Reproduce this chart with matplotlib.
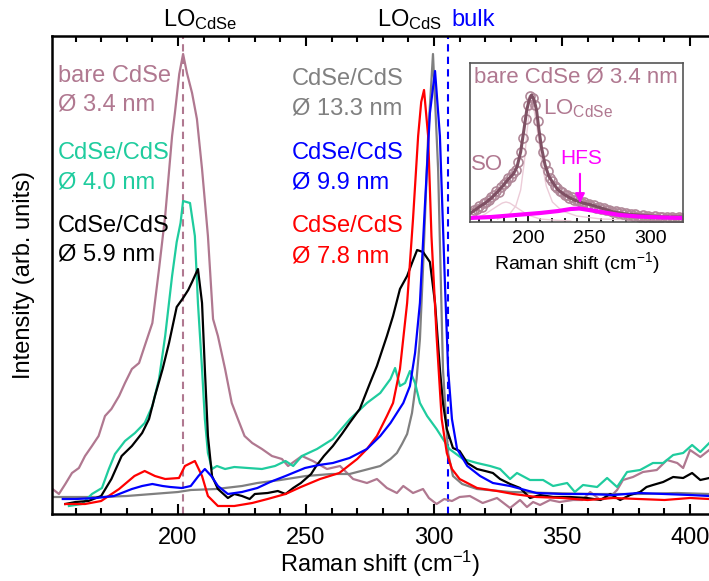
import matplotlib
matplotlib.use("Agg")
import matplotlib.pyplot as plt
from matplotlib.ticker import MultipleLocator

plt.rcParams["font.family"] = ["Liberation Sans", "DejaVu Sans"]
plt.rcParams["mathtext.fontset"] = "custom"
plt.rcParams["mathtext.rm"] = "Liberation Sans"
plt.rcParams["mathtext.it"] = "Liberation Sans"

MAUVE = "#b07890"
TEAL = "#1fcc9e"

# bare CdSe, 3.4 nm
bare_x = [151, 153.5, 156, 158.6, 161.3, 163.7, 166.4, 169, 171.5, 174, 177, 179.3, 182, 184.8, 187, 190,
          192.6, 195, 197.7, 198.8, 200.5, 202, 203.5, 205.5, 207.4, 209.4, 211.7, 213.7, 215.6, 218.4, 221,
          223.4, 226, 229, 232.8, 236.7, 240.6, 243, 245.7, 248.4, 252.7, 258.2, 263.3, 268.4, 273.8, 277.7,
          281.6, 285.5, 288, 291.8, 295.7, 298, 301, 304, 307, 310, 314, 319, 324.6, 329.7, 333.6, 336.3,
          338.7, 341.4, 345.3, 349, 354.3, 358, 361, 365, 368.8, 371.5, 373.8, 377.7, 381.6, 387, 391, 395,
          397.3, 400, 404, 407.5]
bare_y = [25, 20, 30, 41, 46, 58, 68, 78, 98, 105, 118, 131, 145, 151, 168, 191,
          245, 298, 378, 401, 440, 460, 441, 421, 395, 345, 278, 195, 178, 145, 111,
          95, 78, 71, 65, 58, 55, 48, 53, 58, 53, 45, 48, 35, 31, 35,
          26, 21, 28, 21, 25, 16, 10, 15, 13, 17, 18, 11, 16, 6, 14, 7,
          12, 9, 14, 12, 14, 14, 22, 14, 17, 24, 34, 37, 42, 44, 54, 51,
          46, 64, 57, 64]

# CdSe/CdS 4.0 nm
d40_x = [157.4, 162.5, 166.4, 170.3, 173, 175.4, 179.3, 183.2, 187, 190, 192.6, 195, 197.7, 199.5, 201, 202,
         204.7, 206.6, 207.8, 209.4, 210.5, 211.7, 213.3, 215.2, 218.4, 222, 227.3, 232.8, 237.9, 242, 245,
         248.4, 254.3, 260.5, 267.2, 273.8, 279, 283, 284.8, 286.7, 288.7, 290.6, 292.6, 294.5, 297.3, 301,
         303.5, 306, 311.3, 316.8, 321.9, 325.8, 329.7, 332.4, 337.5, 342.6, 346.5, 352, 355, 358.2, 363.7,
         367.6, 371.5, 375.4, 380.5, 385.5, 389.5, 393.4, 397.3, 400.8, 404, 407.5]
d40_y = [8, 10, 20, 26, 45, 60, 73, 81, 91, 108, 135, 178, 238, 272, 291, 313,
         311, 278, 211, 145, 95, 61, 45, 48, 45, 47, 46, 45, 48, 53, 48,
         58, 65, 75, 95, 111, 121, 135, 146, 128, 131, 143, 131, 111, 98, 85,
         75, 65, 55, 51, 48, 45, 35, 41, 34, 34, 28, 31, 22, 29, 27,
         36, 27, 42, 44, 51, 51, 59, 61, 69, 62, 71]

# CdSe/CdS 5.9 nm
d59_x = [156, 160, 165, 170, 174, 178, 182, 186, 188.7, 191, 194, 196.5, 199.5, 202, 204, 205.5, 207.8,
         209.4, 210.5, 211.7, 213.3, 215.6, 219.5, 222, 225, 228, 230, 235, 239, 242, 245, 248, 252, 254,
         257, 260.5, 264, 267, 271, 275, 277.7, 281.6, 284, 286.7, 289.5, 291.4, 293.4, 295.7, 298.4,
         300.4, 302.3, 303.5, 305, 307.4, 310, 313, 316.8, 320, 323, 325.8, 329.7, 333.6, 337.5, 341.4,
         346.5, 353, 359.8, 365, 368.8, 372.7, 376.6, 380.5, 383, 385.5, 389.5, 393.4, 397.3, 400.8, 404,
         407.5]
d59_y = [10, 12, 13, 18, 35, 58, 68, 81, 95, 118, 145, 171, 207, 216, 224, 232, 245,
         211, 145, 78, 38, 25, 16, 20, 18, 15, 20, 21, 23, 20, 26, 31, 40, 48,
         58, 68, 80, 91, 105, 131, 148, 178, 198, 225, 238, 251, 264, 262, 252,
         211, 145, 111, 85, 66, 63, 51, 45, 43, 41, 35, 30, 26, 16, 19,
         17, 17, 16, 14, 20, 14, 19, 22, 27, 29, 32, 37, 36, 41, 34,
         36]

# CdSe/CdS 7.8 nm
d78_x = [156, 163.7, 170, 177, 183, 187, 191, 195, 200.4, 202.7, 206.6, 209.4, 211.7, 215.6, 222, 229, 235,
         242, 248, 255.5, 263, 270, 273.8, 277.7, 281.6, 284, 286.7, 289.5, 291.8, 293.8, 295, 296.1,
         297.7, 299, 301, 303, 305, 307, 310, 316.8, 324.6, 331, 340, 350, 360, 370, 380, 390, 400,
         407.5]
d78_y = [10, 10, 13, 25, 38, 43, 38, 35, 36, 48, 53, 38, 18, 8, 8, 11, 15,
         20, 27, 35, 41, 55, 65, 78, 98, 111, 145, 211, 295, 378, 412, 424,
         378, 278, 178, 95, 61, 45, 35, 26, 23, 20, 17, 16, 14, 16, 15, 14, 16,
         15]

# CdSe/CdS 9.9 nm
d99_x = [155, 160, 168, 175, 182, 186, 190, 194, 197, 201.5, 205, 208, 210.5, 213, 215.6, 219.5, 225,
         231, 236, 242, 249.6, 255, 260.5, 267, 273.8, 279, 283, 285.5, 288, 290.6, 292.6, 294.5, 296.5,
         298.4, 300.4, 302.3, 304.3, 305.5, 307, 309, 313, 318, 323, 329.7, 340, 350, 360, 370, 380, 390,
         400, 407.5]
d99_y = [15, 15, 16, 18, 25, 28, 30, 28, 27, 26, 28, 38, 45, 38, 28, 20, 22,
         26, 32, 38, 46, 49, 51, 56, 65, 78, 91, 101, 111, 128, 161, 211, 311,
         401, 443, 378, 228, 145, 95, 65, 48, 38, 31, 28, 21, 20, 20, 19, 21, 20,
         19, 18]

# CdSe/CdS 13.3 nm
d133_x = [151, 160, 170, 180, 190, 200, 205, 215, 225, 231, 240, 250, 260, 267, 273, 279, 283, 285.5,
          287.5, 289.5, 291.4, 293.2, 294.5, 295.7, 297.7, 299.6, 301.6, 303.5, 305.5, 307.4, 311, 316.8,
          330, 345, 360, 380, 395, 407.5]
d133_y = [17, 17, 17, 18, 20, 22, 24, 25, 28, 31, 34, 38, 40, 40, 44, 48, 55, 61,
          70, 80, 101, 135, 175, 245, 378, 460, 345, 145, 61, 38, 30, 25,
          22, 21, 20, 20, 21, 20]

# inset: bare CdSe 3.4 nm with fit
ins_x = list(range(154, 327, 2))
ins_y = [9, 12, 13, 16, 15, 19, 20, 22, 25, 27, 31, 30, 35, 38, 40, 44, 45, 49, 52, 60,
         70, 84, 103, 117, 126, 124, 117, 101, 84, 70, 58, 51, 44, 41, 36, 34, 31, 30, 27, 27,
         24, 25, 22, 22, 21, 19, 20, 17, 18, 16, 17, 14, 15, 13, 14, 12, 12, 11, 10, 11,
         9, 10, 8, 9, 7, 8, 6, 8, 6, 5, 7, 5, 6, 5, 4, 6, 4, 5, 5, 3,
         5, 4, 5, 3, 4, 5, 4]
fit_x = [153, 160, 165, 170, 175, 180, 184, 188, 191, 194, 197, 199, 201, 203, 205, 207, 209, 211, 214,
         217, 220, 224, 228, 233, 238, 245, 252, 260, 270, 280, 290, 300, 310, 327]
fit_y = [9, 15, 19, 24, 30, 37, 43, 48, 55, 70, 95, 112, 122, 127, 122, 112, 92, 75, 57,
         46, 40, 33, 29, 25, 22, 19, 17, 14, 10, 8, 7, 6, 5, 5]
so_x = [153, 160, 165, 170, 175, 179, 182, 185, 190, 195, 200, 205, 210, 220, 235]
so_y = [3, 5, 8, 12, 16, 19, 20, 19, 15, 11, 7, 5, 3, 2, 1]
lo_x = [175, 185, 190, 194, 197, 199, 201, 203, 205, 207, 209, 212, 215, 220, 228, 240, 260, 290, 327]
lo_y = [3, 8, 16, 32, 60, 88, 110, 118, 112, 98, 80, 55, 36, 20, 11, 6, 3, 2, 1]
hfs_x = [152, 170, 190, 210, 225, 235, 242, 250, 260, 275, 290, 310, 327]
hfs_y = [4, 5, 7, 9, 11, 13, 13.5, 12, 10, 7, 5.5, 4.5, 4]

fig = plt.figure(figsize=(7.09, 5.81), dpi=100)
ax = fig.add_axes([52 / 709, 67 / 581, 657 / 709, 478 / 581])

ax.axvline(202, color=MAUVE, lw=1.5, dashes=(3.5, 2.5), zorder=1)
ax.axvline(305.3, color="#0000ff", lw=1.5, dashes=(3.5, 2.5), zorder=1)

ax.plot(bare_x, bare_y, color=MAUVE, lw=1.6)
ax.plot(d133_x, d133_y, color="#808080", lw=1.6)
ax.plot(d40_x, d40_y, color=TEAL, lw=1.6)
ax.plot(d59_x, d59_y, color="black", lw=1.6)
ax.plot(d78_x, d78_y, color="#ff0000", lw=1.6)
ax.plot(d99_x, d99_y, color="#0000ff", lw=1.6)

ax.set_xlim(150.8, 407.4)
ax.set_ylim(0, 478)
ax.set_yticks([])
ax.xaxis.set_major_locator(MultipleLocator(50))
ax.xaxis.set_minor_locator(MultipleLocator(10))
ax.tick_params(axis="x", which="both", direction="in", top=True, width=1.5, labelsize=17, pad=9)
ax.tick_params(axis="x", which="major", length=7)
ax.tick_params(axis="x", which="minor", length=4)
for side in ["left", "bottom", "top"]:
    ax.spines[side].set_linewidth(1.8)
ax.spines["right"].set_visible(False)
ax.set_xlabel("Raman shift (cm$^{-1}$)", fontsize=17, labelpad=0)
ax.set_ylabel("Intensity (arb. units)", fontsize=17, labelpad=12)

fs = 17
ax.text(153, 438, "bare CdSe", color=MAUVE, fontsize=fs, va="center")
ax.text(153, 410, "Ø 3.4 nm", color=MAUVE, fontsize=fs, va="center")
ax.text(153, 361, "CdSe/CdS", color=TEAL, fontsize=fs, va="center")
ax.text(153, 332, "Ø 4.0 nm", color=TEAL, fontsize=fs, va="center")
ax.text(153, 288, "CdSe/CdS", color="black", fontsize=fs, va="center")
ax.text(153, 260, "Ø 5.9 nm", color="black", fontsize=fs, va="center")
ax.text(244.5, 435, "CdSe/CdS", color="#808080", fontsize=fs, va="center")
ax.text(244.5, 406, "Ø 13.3 nm", color="#808080", fontsize=fs, va="center")
ax.text(244.5, 361, "CdSe/CdS", color="#0000ff", fontsize=fs, va="center")
ax.text(244.5, 332, "Ø 9.9 nm", color="#0000ff", fontsize=fs, va="center")
ax.text(244.5, 288, "CdSe/CdS", color="#ff0000", fontsize=fs, va="center")
ax.text(244.5, 258, "Ø 7.8 nm", color="#ff0000", fontsize=fs, va="center")

fig.text(163 / 709, 1 - 26 / 581, r"LO$_{\mathrm{CdSe}}$", fontsize=fs, va="baseline")
fig.text(377 / 709, 1 - 26 / 581, r"LO$_{\mathrm{CdS}}$", fontsize=fs, va="baseline")
fig.text(451 / 709, 1 - 26 / 581, "bulk", fontsize=fs, va="baseline", color="#0000ff")

# inset
ins = fig.add_axes([470 / 709, 359 / 581, 213 / 709, 159 / 581])
ins.plot(so_x, so_y, color="#ecccd8", lw=1)
ins.plot(lo_x, lo_y, color="#ecccd8", lw=1)
ins.plot(ins_x, ins_y, "o", mfc="none", mec="#b08898", ms=6.5, mew=1.2)
ins.plot(fit_x, fit_y, color="#7e5063", lw=2.2)
ins.plot(hfs_x, hfs_y, color="#ff00ff", lw=3)
ins.set_xlim(152.5, 327)
ins.set_ylim(0, 159)
ins.set_yticks([])
ins.xaxis.set_major_locator(MultipleLocator(50))
ins.xaxis.set_minor_locator(MultipleLocator(10))
ins.tick_params(axis="x", which="both", direction="in", labelsize=14, pad=6, width=1.2)
ins.tick_params(axis="x", which="major", length=5)
ins.tick_params(axis="x", which="minor", length=3)
for s in ins.spines.values():
    s.set_color("#555555")
    s.set_linewidth(1.2)
ins.set_xlabel("Raman shift (cm$^{-1}$)", fontsize=14, labelpad=2)
ins.text(156, 145, "bare CdSe Ø 3.4 nm", color=MAUVE, fontsize=16, va="center")
ins.text(212, 113, r"LO$_{\mathrm{CdSe}}$", color=MAUVE, fontsize=16, va="center")
ins.text(166.5, 58, "SO", color=MAUVE, fontsize=16, va="center", ha="center")
ins.text(243.4, 63, "HFS", color="#ff00ff", fontsize=15, va="center", ha="center")
ins.annotate("", xy=(242.6, 16), xytext=(242.6, 51),
             arrowprops=dict(arrowstyle="-|>", color="#ff00ff", lw=1.5, mutation_scale=14))

fig.savefig("out.png", dpi=100)
